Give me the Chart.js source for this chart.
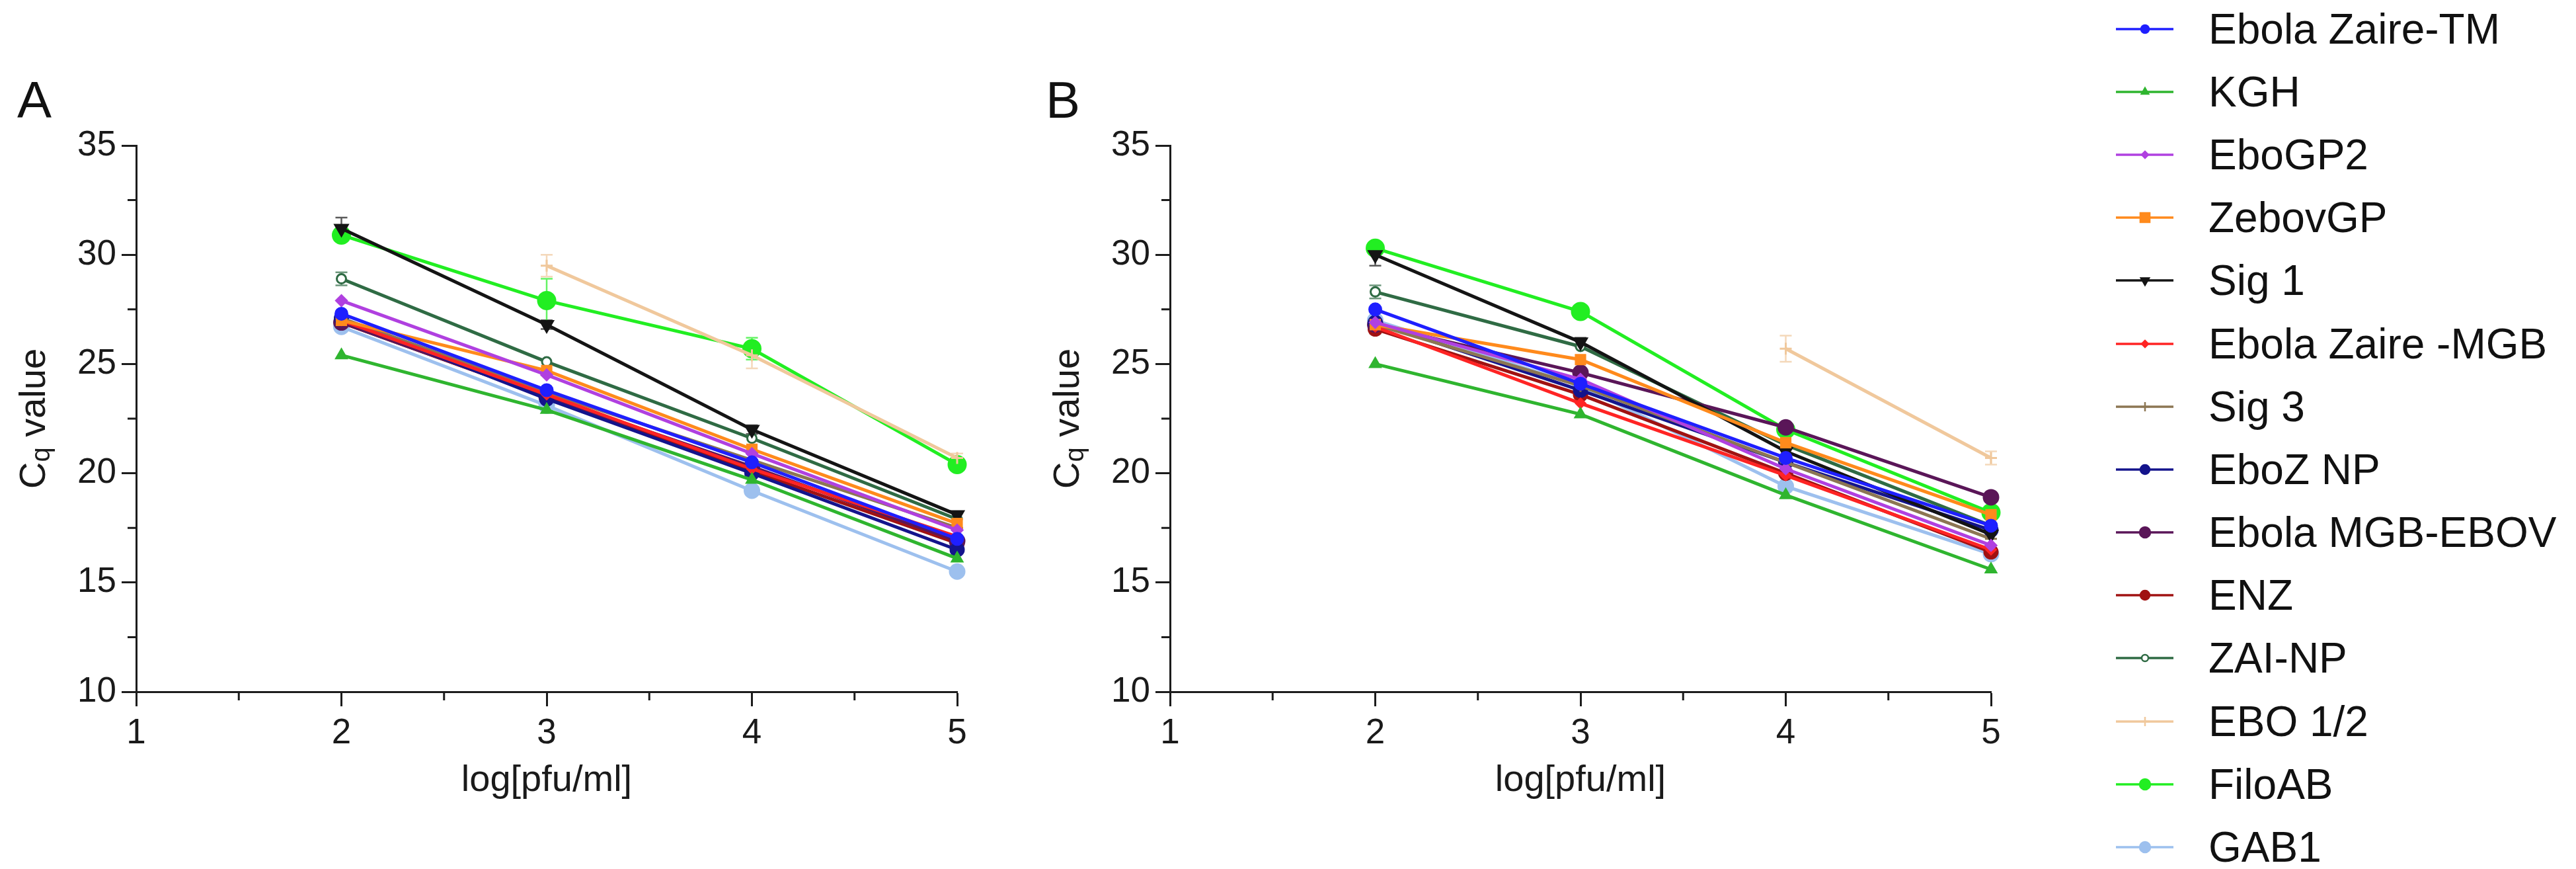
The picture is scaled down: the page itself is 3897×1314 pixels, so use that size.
<!DOCTYPE html>
<html>
<head>
<meta charset="utf-8">
<script src="https://cdn.jsdelivr.net/npm/chart.js@4.4.0/dist/chart.umd.min.js"></script>
<style>
  html, body { margin: 0; padding: 0; background: #fff; }
  body { width: 3897px; height: 1314px; position: relative; overflow: hidden; font-family: "Liberation Sans", Arial, sans-serif; }
  .panel { position: absolute; top: 0; width: 1500px; height: 1314px; }
  .letter { position: absolute; top: 112px; font-size: 78px; line-height: 1; color: #111; }
  #legend { position: absolute; left: 3201px; top: -4px; }
  .row { display: flex; align-items: center; height: 95.2px; }
  .row canvas { display: block; }
  .row span { margin-left: 50px; font-size: 64px; line-height: 1; color: #111; white-space: nowrap; }
</style>
</head>
<body>
<div class="letter" style="left:26px">A</div>
<div class="letter" style="left:1582px">B</div>
<div class="panel" style="left:0px"><canvas id="chartA" width="1500" height="1314"></canvas></div>
<div class="panel" style="left:1564px"><canvas id="chartB" width="1500" height="1314"></canvas></div>
<div id="legend"></div>

<script>
const xValues = [2, 3, 4, 5];
const xTicks = [1, 2, 3, 4, 5];
const yTicks = [10, 15, 20, 25, 30, 35];
const seriesNames = ['Ebola Zaire-TM', 'KGH', 'EboGP2', 'ZebovGP', 'Sig 1', 'Ebola Zaire -MGB', 'Sig 3',
  'EboZ NP', 'Ebola MGB-EBOV', 'ENZ', 'ZAI-NP', 'EBO 1/2', 'FiloAB', 'GAB1'];

// mean Cq per assay (rows follow seriesNames, columns follow xValues)
const cqA = [
  [27.3, 23.8, 20.5, 17.0],
  [25.4, 22.9, 19.7, 16.1],
  [27.9, 24.5, 20.9, 17.4],
  [27.0, 24.7, 21.1, 17.7],
  [31.2, 26.8, 22.0, 18.1],
  [27.0, 23.6, 20.2, 17.1],
  [27.1, 23.7, 20.6, 17.5],
  [27.1, 23.4, 20.0, 16.5],
  [26.9, 23.5, 20.3, 16.9],
  [26.9, 23.5, 20.1, 16.8],
  [28.9, 25.1, 21.6, 17.9],
  [null, 29.5, 25.4, 20.7],
  [30.9, 27.9, 25.7, 20.4],
  [26.7, 23.1, 19.2, 15.5]
];
const cqB = [
  [27.5, 24.1, 20.7, 17.6],
  [25.0, 22.7, 19.0, 15.6],
  [26.9, 24.3, 20.2, 16.7],
  [26.8, 25.2, 21.4, 18.1],
  [30.0, 26.0, 21.0, 17.2],
  [26.7, 23.2, 19.9, 16.5],
  [26.8, 24.0, 20.5, 17.0],
  [26.9, 23.8, 20.5, 17.4],
  [26.8, 24.6, 22.1, 18.9],
  [26.6, 23.6, 20.0, 16.4],
  [28.3, 25.8, 21.3, 17.6],
  [null, null, 25.7, 20.7],
  [30.3, 27.4, 22.0, 18.2],
  [27.0, 24.0, 19.4, 16.3]
];
// standard deviations where an error bar is visible (null = none drawn)
const sdA = [
  null, null, null, null,
  [0.5, 0.2, 0.2, null],
  null, null, null, null, null,
  [0.3, null, null, null],
  [null, 0.5, 0.6, 0.2],
  [0.3, 1.0, 0.5, 0.2],
  null
];
const sdB = [
  null, null, null, null,
  [0.5, 0.2, null, null],
  null, null, null, null,
  [0.2, null, null, null],
  [0.3, null, null, null],
  [null, null, 0.6, 0.3],
  [0.2, null, null, null],
  null
];

// styles
const lineColors = ['#1f1fff', '#2fb52f', '#b040e0', '#ff8a1c', '#141414', '#ff2424', '#8c7653',
  '#14148c', '#5a1658', '#a01212', '#2f6b44', '#f0c89c', '#22ee22', '#9dc0ee'];
const fillColors = ['#1f1fff', '#2fb52f', '#b040e0', '#ff8a1c', '#141414', '#ff2424', '#8c7653',
  '#14148c', '#5a1658', '#a01212', '#ffffff', '#f0c89c', '#22ee22', '#9dc0ee'];
const markerStyles = ['circle', 'triangle', 'rectRot', 'rect', 'triangle', 'rectRot', 'cross',
  'circle', 'circle', 'circle', 'circle', 'cross', 'circle', 'circle'];
const markerRotation = [0, 0, 0, 0, 180, 0, 0, 0, 0, 0, 0, 0, 0, 0];
const markerSizes = [9, 9, 8, 10, 11, 7, 9, 10, 11, 10, 7, 9, 13, 11];
const legendSizes = [6, 6, 5, 10, 7, 5, 7, 7, 8, 7, 5, 7, 8, 8];

const fontFamily = "'Liberation Sans', Arial, sans-serif";
const axisColor = '#1c1c1c';
Chart.defaults.font.family = fontFamily;

const errorBars = {
  id: 'errorBars',
  beforeDatasetsDraw(chart) {
    const ctx = chart.ctx, xs = chart.scales.x, ys = chart.scales.y;
    chart.data.datasets.forEach(ds => {
      if (!ds.sd) return;
      ds.sd.forEach((e, j) => {
        const v = ds.data[j].y;
        if (e == null || v == null) return;
        const px = xs.getPixelForValue(ds.data[j].x);
        const top = ys.getPixelForValue(v + e), bot = ys.getPixelForValue(v - e);
        ctx.save();
        ctx.strokeStyle = ds.borderColor;
        ctx.globalAlpha = 0.7;
        ctx.lineWidth = 2.5;
        ctx.beginPath();
        ctx.moveTo(px, top); ctx.lineTo(px, bot);
        ctx.moveTo(px - 9, top); ctx.lineTo(px + 9, top);
        ctx.moveTo(px - 9, bot); ctx.lineTo(px + 9, bot);
        ctx.stroke();
        ctx.restore();
      });
    });
  }
};

const axisExtras = {
  id: 'axisExtras',
  afterDraw(chart) {
    const ctx = chart.ctx, xs = chart.scales.x, ys = chart.scales.y, area = chart.chartArea;
    ctx.save();
    // minor ticks halfway between labelled ones
    ctx.strokeStyle = axisColor;
    ctx.lineWidth = 3;
    ctx.beginPath();
    for (let i = 0; i < xTicks.length - 1; i++) {
      const px = xs.getPixelForValue((xTicks[i] + xTicks[i + 1]) / 2);
      ctx.moveTo(px, area.bottom); ctx.lineTo(px, area.bottom + 13);
    }
    for (let i = 0; i < yTicks.length - 1; i++) {
      const py = ys.getPixelForValue((yTicks[i] + yTicks[i + 1]) / 2);
      ctx.moveTo(area.left, py); ctx.lineTo(area.left - 13, py);
    }
    ctx.stroke();
    // y title with subscript q
    const main = '56px ' + fontFamily, sub = '40px ' + fontFamily;
    ctx.fillStyle = '#1a1a1a';
    ctx.translate(48, (area.top + area.bottom) / 2);
    ctx.rotate(-Math.PI / 2);
    ctx.font = main;
    const wC = ctx.measureText('C').width, wV = ctx.measureText(' value').width;
    ctx.font = sub;
    const wq = ctx.measureText('q').width;
    let x = -(wC + wq + wV) / 2;
    ctx.textBaseline = 'alphabetic';
    ctx.font = main; ctx.fillText('C', x, 20); x += wC;
    ctx.font = sub; ctx.fillText('q', x, 27); x += wq;
    ctx.font = main; ctx.fillText(' value', x, 20);
    ctx.restore();
  }
};

function buildChart(canvasId, cq, sd) {
  const datasets = seriesNames.map((name, i) => ({
    label: name,
    data: xValues.map((x, j) => ({ x: x, y: cq[i][j] })),
    sd: sd[i],
    borderColor: lineColors[i],
    backgroundColor: fillColors[i],
    pointBackgroundColor: fillColors[i],
    pointBorderColor: lineColors[i],
    pointStyle: markerStyles[i],
    pointRotation: markerRotation[i],
    pointRadius: markerSizes[i],
    pointBorderWidth: 3,
    borderWidth: 5,
    spanGaps: false,
    clip: false
  }));
  const tickFont = { size: 53 };
  return new Chart(document.getElementById(canvasId), {
    type: 'line',
    data: { datasets },
    plugins: [errorBars, axisExtras],
    options: {
      responsive: false,
      devicePixelRatio: 1,
      animation: false,
      layout: { padding: { top: 220, right: 52, bottom: 68, left: 0 } },
      plugins: { legend: { display: false }, tooltip: { enabled: false } },
      scales: {
        x: {
          type: 'linear', min: xTicks[0], max: xTicks[xTicks.length - 1],
          afterFit: s => { s.height = 200; },
          afterBuildTicks: s => { s.ticks = xTicks.map(v => ({ value: v })); },
          ticks: { font: tickFont, color: '#1a1a1a', padding: 10, maxRotation: 0 },
          grid: { drawOnChartArea: false, drawTicks: true, tickLength: 22, tickWidth: 3, tickColor: axisColor },
          border: { display: true, width: 3, color: axisColor },
          title: { display: true, text: 'log[pfu/ml]', font: { size: 56 }, color: '#1a1a1a', padding: { top: 0, bottom: 32 } }
        },
        y: {
          type: 'linear', min: yTicks[0], max: yTicks[yTicks.length - 1],
          afterFit: s => { s.width = 206; },
          afterBuildTicks: s => { s.ticks = yTicks.map(v => ({ value: v })); },
          ticks: { font: tickFont, color: '#1a1a1a', padding: 8 },
          grid: { drawOnChartArea: false, drawTicks: true, tickLength: 22, tickWidth: 3, tickColor: axisColor },
          border: { display: true, width: 3, color: axisColor }
        }
      }
    }
  });
}

buildChart('chartA', cqA, sdA);
buildChart('chartB', cqB, sdB);

// legend
const legend = document.getElementById('legend');
seriesNames.forEach((name, i) => {
  const row = document.createElement('div');
  row.className = 'row';
  const c = document.createElement('canvas');
  c.width = 90; c.height = 40;
  const ctx = c.getContext('2d');
  ctx.strokeStyle = lineColors[i];
  ctx.lineWidth = 3.5;
  ctx.beginPath(); ctx.moveTo(0, 20); ctx.lineTo(87, 20); ctx.stroke();
  ctx.fillStyle = fillColors[i];
  ctx.strokeStyle = lineColors[i];
  ctx.lineWidth = 2.5;
  const opts = { pointStyle: markerStyles[i], rotation: markerRotation[i], radius: legendSizes[i], borderWidth: 2.5 };
  if (Chart.helpers && Chart.helpers.drawPoint) {
    Chart.helpers.drawPoint(ctx, opts, 44, 20);
  } else {
    ctx.beginPath(); ctx.arc(44, 20, legendSizes[i], 0, Math.PI * 2); ctx.fill(); ctx.stroke();
  }
  const label = document.createElement('span');
  label.textContent = name;
  row.appendChild(c);
  row.appendChild(label);
  legend.appendChild(row);
});
</script>
</body>
</html>
